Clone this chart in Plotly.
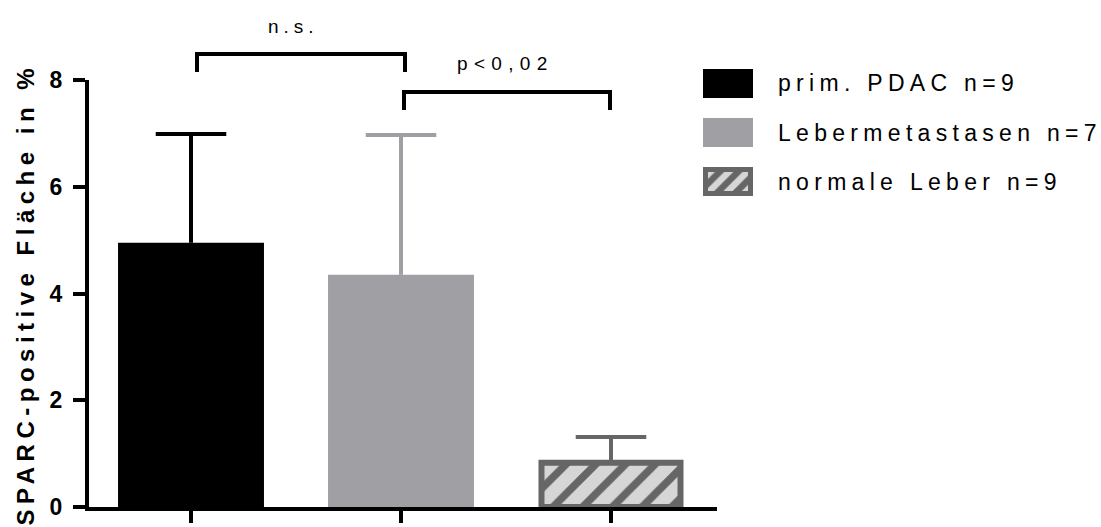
import json
import plotly.graph_objects as go

# Groups (also used as legend labels)
categories = ["prim. PDAC n=9", "Lebermetastasen n=7", "normale Leber n=9"]
# Mean SPARC-positive area in % and upper error (SEM)
means = [4.95, 4.35, 0.83]
errors_up = [2.04, 2.62, 0.48]

y_tick_values = [0, 2, 4, 6, 8]
y_title = "SPARC-positive Fläche in %"

# Significance annotations: (left group, right group, label)
comparisons = [(0, 1, "n.s."), (1, 2, "p<0,02")]

# ---- styling -------------------------------------------------------------
FONT = "Liberation Sans, Arial, Helvetica, sans-serif"
fill_colors = ["#000000", "#a0a0a4", "#d6d6d6"]
edge_colors = ["#000000", "#a0a0a4", "#666666"]
edge_widths = [0, 0, 6]
pattern_shapes = ["", "", "/"]
bar_widths = [0.695, 0.695, 0.662]
CAP_HALF = 0.168                   # half error-cap width in group units

W, H = 1101, 527
L, B = 89, 20                      # left / bottom margin in px
PLOT_RIGHT, PLOT_TOP = 717, 80     # px edges of the bar panel
paper_w, paper_h = W - L, H - B
CAT_STEP, CAT0 = 210, 191          # px per group, px centre of first group


def fx(p):
    return (p - L) / paper_w


def fy(p):
    return (H - B - p) / paper_h


fig = go.Figure()

positions = list(range(len(categories)))

for i, cat in enumerate(categories):
    fig.add_trace(go.Bar(
        x=[positions[i]], y=[means[i]], name=cat,
        width=bar_widths[i],
        marker=dict(
            color=fill_colors[i],
            line=dict(color=edge_colors[i], width=edge_widths[i]),
            pattern=dict(shape=pattern_shapes[i], fgcolor="#666666",
                         bgcolor="#d6d6d6", size=21, solidity=0.36,
                         fillmode="replace"),
        ),
        showlegend=False, hoverinfo="skip",
        xaxis="x", yaxis="y",
    ))

# upper error bars (stem + cap) drawn from the means and errors
for i, cat in enumerate(categories):
    top = means[i] + errors_up[i]
    xc = positions[i]
    fig.add_trace(go.Scatter(
        x=[xc, xc, None, xc - CAP_HALF, xc + CAP_HALF],
        y=[means[i], top, None, top, top],
        mode="lines", line=dict(color=edge_colors[i], width=4),
        showlegend=False, hoverinfo="skip",
        xaxis="x", yaxis="y",
    ))

# Legend keys as small bars in their own panel, one per group
for i, cat in enumerate(categories):
    hatched = pattern_shapes[i] != ""
    fig.add_trace(go.Bar(
        y=[cat], x=[0.9 if hatched else 1], base=[0.05 if hatched else 0],
        orientation="h", width=0.49 if hatched else 0.592,
        marker=dict(
            color=fill_colors[i],
            line=dict(color=edge_colors[i], width=5 if hatched else 0),
            pattern=dict(shape=pattern_shapes[i], fgcolor="#d6d6d6",
                         bgcolor="#666666", size=13, solidity=0.5,
                         fillmode="replace"),
        ),
        showlegend=False, hoverinfo="skip",
        xaxis="x2", yaxis="y2",
    ))

annotations = []
shapes = []

# brackets with their labels
bracket_geom = [
    dict(x0=197, x1=405, top=54, bottom=72, label_x=293, label_y=26),
    dict(x0=404, x1=610, top=92, bottom=110, label_x=505, label_y=64),
]
for (i, j, label), g in zip(comparisons, bracket_geom):
    x0, x1 = fx(g["x0"]), fx(g["x1"])
    yt, yb = fy(g["top"]), fy(g["bottom"])
    shapes.append(dict(
        type="path", xref="paper", yref="paper",
        path=f"M{x0},{yb} L{x0},{yt} L{x1},{yt} L{x1},{yb}",
        line=dict(color="black", width=4),
    ))
    annotations.append(dict(
        text=label, xref="paper", yref="paper",
        x=fx(g["label_x"]), y=fy(g["label_y"]),
        xanchor="center", yanchor="middle", showarrow=False,
        font=dict(family=FONT, size=19, color="black"),
    ))

# legend labels
for k, cat in enumerate(categories):
    annotations.append(dict(
        text=cat, xref="paper", yref="paper",
        x=fx(776), y=fy(83.5 + 49 * k),
        xanchor="left", yanchor="middle", align="left", showarrow=False,
        font=dict(family=FONT, size=23, color="black"),
    ))

# y-axis title
annotations.append(dict(
    text=y_title, xref="paper", yref="paper",
    x=fx(25), y=fy(294), textangle=-90,
    xanchor="center", yanchor="middle", showarrow=False,
    font=dict(family=FONT, size=24, color="black", weight="bold"),
))

fig.update_layout(
    width=W, height=H,
    margin=dict(l=L, r=0, t=0, b=B, pad=0, autoexpand=False),
    paper_bgcolor="white", plot_bgcolor="white",
    barmode="overlay",
    xaxis=dict(
        domain=[0, fx(PLOT_RIGHT)],
        range=[(L - CAT0) / CAT_STEP, (PLOT_RIGHT - CAT0) / CAT_STEP],
        tickvals=positions,
        showline=True, linecolor="black", linewidth=4,
        ticks="outside", ticklen=12, tickwidth=4, tickcolor="black",
        showticklabels=False, showgrid=False, zeroline=False, fixedrange=True,
    ),
    yaxis=dict(
        domain=[0, fy(PLOT_TOP)],
        range=[0, 8], tickvals=y_tick_values,
        showline=True, linecolor="black", linewidth=4,
        ticks="outside", ticklen=12, tickwidth=4, tickcolor="black",
        tickfont=dict(family=FONT, size=23, color="black", weight="bold"),
        ticklabelstandoff=6, automargin=False,
        showgrid=False, zeroline=False, fixedrange=True,
    ),
    xaxis2=dict(domain=[fx(703), fx(753)], range=[0, 1], visible=False,
                anchor="y2", fixedrange=True),
    yaxis2=dict(domain=[fy(196), fy(69)], type="category",
                categoryorder="array", categoryarray=categories[::-1],
                range=[-0.296, 2.296], visible=False, anchor="x2",
                fixedrange=True),
    shapes=shapes,
    annotations=annotations,
    hovermode=False,
)

# letter spacing (px) for the wide-set labels
letter_spacing = {"n.s.": 5.0, "p<0,02": 6.3}
letter_spacing.update({cat: 5.3 for cat in categories})
letter_spacing[y_title] = 5.5

post_js = """
var gd = document.getElementById('{plot_id}');
var spacing = %s;
function applySpacing() {
  gd.querySelectorAll('text.annotation-text').forEach(function (t) {
    var ls = spacing[t.textContent];
    if (ls !== undefined) { t.style.letterSpacing = ls + 'px'; }
  });
}
applySpacing();
gd.on('plotly_afterplot', applySpacing);
""" % json.dumps(letter_spacing, ensure_ascii=False)

fig.write_html("out.html", post_script=post_js, config={"displayModeBar": False})
